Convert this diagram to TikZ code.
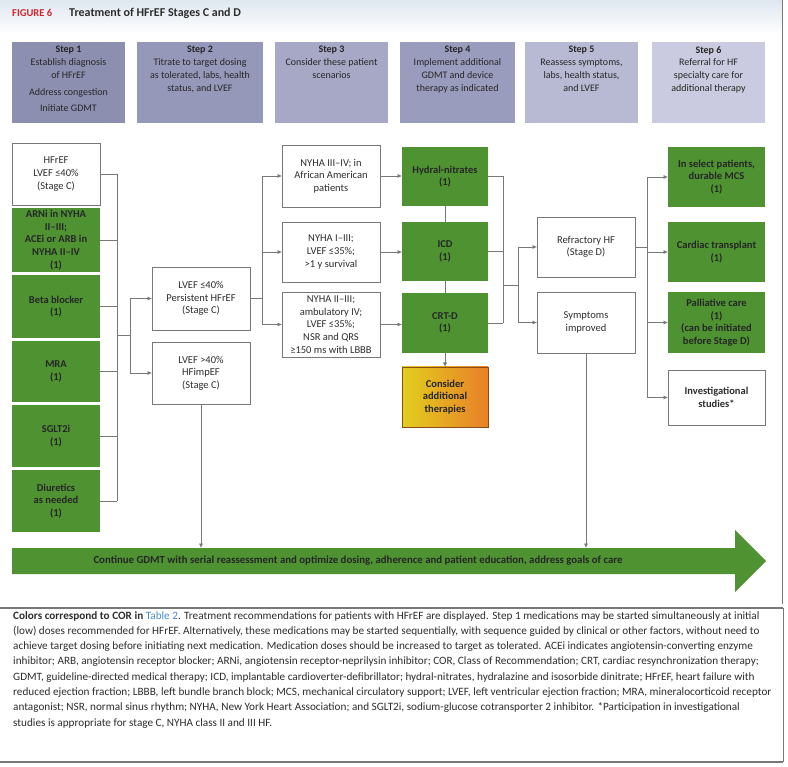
\documentclass[tikz,border=0pt]{standalone}
\usepackage{fontspec}
\setmainfont{Carlito}
\usetikzlibrary{arrows.meta}
\definecolor{grn}{RGB}{78,146,50}
\definecolor{linegray}{RGB}{120,120,120}
\definecolor{txt}{RGB}{45,45,45}
\definecolor{yel}{RGB}{226,206,30}
\definecolor{org}{RGB}{232,128,40}
\definecolor{sA}{RGB}{141,143,176}
\definecolor{sB}{RGB}{150,152,186}
\definecolor{sC}{RGB}{166,168,198}
\definecolor{sD}{RGB}{154,156,190}
\definecolor{sE}{RGB}{184,186,212}
\definecolor{sF}{RGB}{202,203,224}
\definecolor{figred}{RGB}{210,35,42}
\definecolor{linkblue}{RGB}{70,140,200}
\definecolor{bandblue}{RGB}{222,231,240}
\newcommand\boxfont{\fontsize{10.5}{12.6}\selectfont}
\newcommand\stepfont{\fontsize{10}{12.8}\selectfont}
\newcommand\bx[7]{\node[#6,minimum width={#4-#2},minimum height={#5-#3}] (#1) at ({(#2+#4)/2},{(#3+#5)/2}) {#7};}
\tikzset{
 wbox/.style={draw=linegray,line width=0.7pt,fill=white,align=center,font=\boxfont,text=txt,inner sep=1pt,outer sep=0pt},
 gbox/.style={fill=grn,align=center,font=\boxfont\bfseries,text=black!85,inner sep=1pt,outer sep=0pt},
 obox/.style={draw=org!60!black,line width=0.5pt,left color=yel,right color=org,align=center,font=\boxfont\bfseries,text=black!85,inner sep=1pt,outer sep=0pt},
 stepbox/.style={fill=#1,inner sep=0pt,outer sep=0pt},
 ln/.style={draw=linegray,line width=0.7pt},
 arr/.style={ln,-{Latex[length=4.5pt,width=4pt]}},
}
\begin{document}
\begin{tikzpicture}[x=1pt,y=-1pt]
\useasboundingbox (0,0) rectangle (788,767);
\fill[white] (0,0) rectangle (788,767);
% title band
\shade[top color=bandblue,bottom color=white] (0,0) rectangle (782,34);
\draw[linegray,line width=1pt] (782,0) -- (782,604);
\node[anchor=west,text=figred,font=\fontsize{10.5}{12}\selectfont\bfseries,inner sep=0pt] (figlbl) at (12,13) {FIGURE 6};
\node[anchor=west,text=txt,font=\fontsize{12}{14}\selectfont\bfseries,inner sep=0pt] (figttl) at (69,13) {Treatment of HFrEF Stages C and D};
% step headers
\bx{s1}{12}{42}{125}{123}{stepbox=sA}{}
\bx{s2}{137}{42}{263}{123}{stepbox=sB}{}
\bx{s3}{275}{42}{388}{123}{stepbox=sC}{}
\bx{s4}{400}{42}{515}{123}{stepbox=sD}{}
\bx{s5}{525}{42}{638}{123}{stepbox=sE}{}
\bx{s6}{652}{42}{765}{123}{stepbox=sF}{}
\node[anchor=north,align=center,font=\stepfont,text=black!85,inner sep=0pt] (t1) at ([yshift=-4pt]s1.north) {\textbf{Step 1}\\Establish diagnosis\\of HFrEF\\[4pt]Address congestion\\[4pt]Initiate GDMT};
\node[anchor=north,align=center,font=\stepfont,text=black!85,inner sep=0pt] (t2) at ([yshift=-4pt]s2.north) {\textbf{Step 2}\\Titrate to target dosing\\as tolerated, labs, health\\status, and LVEF};
\node[anchor=north,align=center,font=\stepfont,text=black!85,inner sep=0pt] (t3) at ([yshift=-4pt]s3.north) {\textbf{Step 3}\\Consider these patient\\scenarios};
\node[anchor=north,align=center,font=\stepfont,text=black!85,inner sep=0pt] (t4) at ([yshift=-4pt]s4.north) {\textbf{Step 4}\\Implement additional\\GDMT and device\\therapy as indicated};
\node[anchor=north,align=center,font=\stepfont,text=black!85,inner sep=0pt] (t5) at ([yshift=-4pt]s5.north) {\textbf{Step 5}\\Reassess symptoms,\\labs, health status,\\and LVEF};
\node[anchor=north,align=center,font=\stepfont,text=black!85,inner sep=0pt] (t6) at ([yshift=-4pt]s6.north) {\textbf{Step 6}\\Referral for HF\\specialty care for\\additional therapy};
% left column
\bx{hf}{12}{143}{100}{205}{wbox}{HFrEF\\LVEF ≤40\%\\(Stage C)}
\bx{arni}{12}{208}{100}{272}{gbox}{ARNi in NYHA\\II–III;\\ACEi or ARB in\\NYHA II–IV\\(1)}
\bx{bb}{12}{275}{100}{338}{gbox}{Beta blocker\\(1)}
\bx{mra}{12}{341}{100}{402}{gbox}{MRA\\(1)}
\bx{sglt}{12}{405}{100}{467}{gbox}{SGLT2i\\(1)}
\bx{diur}{12}{470}{100}{532}{gbox}{Diuretics\\as needed\\(1)}
% step 2
\bx{lv40}{152}{267}{250}{330}{wbox}{LVEF ≤40\%\\Persistent HFrEF\\(Stage C)}
\bx{hfimp}{152}{342}{250}{404}{wbox}{LVEF >40\%\\HFimpEF\\(Stage C)}
% step 3
\bx{ny1}{282}{145}{380}{207}{wbox}{NYHA III–IV; in\\African American\\patients}
\bx{ny2}{282}{222}{380}{282}{wbox}{NYHA I–III;\\LVEF ≤35\%;\\>1 y survival}
\bx{ny3}{282}{292}{380}{357}{wbox}{NYHA II–III;\\ambulatory IV;\\LVEF ≤35\%;\\NSR and QRS\\≥150 ms with LBBB}
% step 4
\bx{hyd}{402}{147}{488}{206}{gbox}{Hydral-nitrates\\(1)}
\bx{icd}{402}{222}{488}{281}{gbox}{ICD\\(1)}
\bx{crt}{402}{293}{488}{353}{gbox}{CRT-D\\(1)}
\bx{cons}{402}{367}{488}{427}{obox}{Consider\\additional\\therapies}
% step 5
\bx{ref}{537}{217}{635}{277}{wbox}{Refractory HF\\(Stage D)}
\bx{sym}{537}{292}{635}{353}{wbox}{Symptoms\\improved}
% step 6
\bx{sel}{668}{147}{765}{207}{gbox}{In select patients,\\durable MCS\\(1)}
\bx{tx}{668}{222}{765}{282}{gbox}{Cardiac transplant\\(1)}
\bx{pal}{668}{292}{765}{353}{gbox}{Palliative care\\(1)\\(can be initiated\\before Stage D)}
\bx{inv}{668}{370}{765}{425}{wbox,font=\boxfont\bfseries}{Investigational\\studies*}
% connectors: step 1 -> step 2
\coordinate (busx) at (117,0);
\foreach \n in {hf,arni,bb,mra,sglt,diur} {\draw[ln] (\n.east) -- (\n.east -| busx);}
\draw[ln] (hf.east -| busx) -- (diur.east -| busx);
\coordinate (j1) at (117,335);
\coordinate (j2) at (130,335);
\draw[ln] (j1) -- (j2);
\draw[arr] (j2) |- (lv40.west);
\draw[arr] (j2) |- (hfimp.west);
% step 2 -> step 3
\coordinate (b2x) at (262,0);
\draw[ln] (lv40.east) -- (lv40.east -| b2x);
\draw[ln] (ny1.west -| b2x) -- (ny3.west -| b2x);
\foreach \n in {ny1,ny2,ny3} {\draw[arr] (\n.west -| b2x) -- (\n.west);}
% step 3 -> step 4
\draw[arr] (ny1.east) -- (ny1.east -| hyd.west);
\draw[arr] (ny2.east) -- (ny2.east -| icd.west);
\draw[arr] (ny3.east) -- (ny3.east -| crt.west);
\draw[ln] (hyd.south) -- (icd.north);
\draw[ln] (icd.south) -- (crt.north);
\draw[arr] (crt.south) -- (cons.north);
% step 4 -> step 5
\coordinate (c4) at (503,0);
\foreach \n in {hyd,icd,crt} {\draw[ln] (\n.east) -- (\n.east -| c4);}
\draw[ln] (hyd.east -| c4) -- (crt.east -| c4);
\coordinate (j3) at (503,285);
\coordinate (j4) at (518,285);
\draw[ln] (j3) -- (j4);
\draw[arr] (j4) |- (ref.west);
\draw[arr] (j4) |- (sym.west);
% step 5 -> step 6
\coordinate (c6) at (647,0);
\draw[ln] (ref.east) -- (ref.east -| c6);
\draw[ln] (sel.west -| c6) -- (inv.west -| c6);
\foreach \n in {sel,tx,pal,inv} {\draw[arr] (\n.west -| c6) -- (\n.west);}
% big arrow
\fill[grn] (12,548) -- (735,548) -- (735,530) -- (766,561) -- (735,592) -- (735,574) -- (12,574) -- cycle;
\node[font=\fontsize{10.8}{12}\selectfont\bfseries,text=black!85,inner sep=0pt] (cont) at (358,561) {Continue GDMT with serial reassessment and optimize dosing, adherence and patient education, address goals of care};
\coordinate (atop) at (0,548);
\draw[arr] (hfimp.south) -- (hfimp.south |- atop);
\draw[arr] (sym.south) -- (sym.south |- atop);
% caption
\draw[linegray,line width=1.5pt] (0,608) -- (783,608);
\draw[linegray,line width=1.5pt] (0,762) -- (783,762);
\draw[linegray,line width=1pt] (783,608) -- (783,762);
\node[anchor=north west,align=left,inner sep=0pt,text=txt,font=\fontsize{11.2}{15.3}\selectfont] (cap) at (13,611) {%
\textbf{Colors correspond to COR in} \textcolor{linkblue}{Table 2}. Treatment recommendations for patients with HFrEF are displayed. Step 1 medications may be started simultaneously at initial\\
(low) doses recommended for HFrEF. Alternatively, these medications may be started sequentially, with sequence guided by clinical or other factors, without need to\\
achieve target dosing before initiating next medication. Medication doses should be increased to target as tolerated. ACEi indicates angiotensin-converting enzyme\\
inhibitor; ARB, angiotensin receptor blocker; ARNi, angiotensin receptor-neprilysin inhibitor; COR, Class of Recommendation; CRT, cardiac resynchronization therapy;\\
GDMT, guideline-directed medical therapy; ICD, implantable cardioverter-defibrillator; hydral-nitrates, hydralazine and isosorbide dinitrate; HFrEF, heart failure with\\
reduced ejection fraction; LBBB, left bundle branch block; MCS, mechanical circulatory support; LVEF, left ventricular ejection fraction; MRA, mineralocorticoid receptor\\
antagonist; NSR, normal sinus rhythm; NYHA, New York Heart Association; and SGLT2i, sodium-glucose cotransporter 2 inhibitor. *Participation in investigational\\
studies is appropriate for stage C, NYHA class II and III HF.};
\end{tikzpicture}
\end{document}
